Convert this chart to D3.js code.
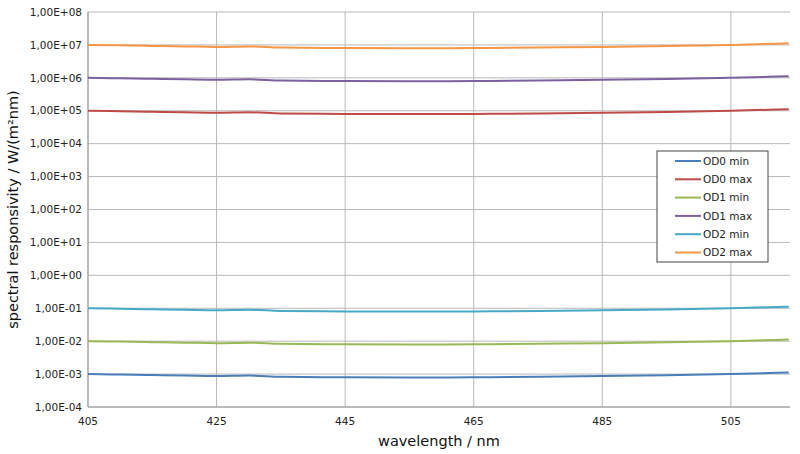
<!DOCTYPE html>
<html><head><meta charset="utf-8">
<script src="https://cdn.jsdelivr.net/npm/d3@7"></script>
<style>body{margin:0;background:#fff}text{font-family:"DejaVu Sans",sans-serif}</style>
</head><body><svg width="800" height="454"></svg>
<script>
const wavelengths = [405, 410, 415, 420, 425, 430, 435, 445, 455, 465, 475, 485, 495, 505, 514];
const od0Min = [1.0e-3, 0.97e-3, 0.93e-3, 0.9e-3, 0.87e-3, 0.9e-3, 0.83e-3, 0.8e-3, 0.79e-3, 0.8e-3, 0.83e-3, 0.87e-3, 0.92e-3, 1.0e-3, 1.12e-3];
const od0Max = [1.0e5, 0.97e5, 0.93e5, 0.9e5, 0.87e5, 0.9e5, 0.83e5, 0.8e5, 0.79e5, 0.8e5, 0.83e5, 0.87e5, 0.92e5, 1.0e5, 1.12e5];
const od1Min = [1.0e-2, 0.97e-2, 0.93e-2, 0.9e-2, 0.87e-2, 0.9e-2, 0.83e-2, 0.8e-2, 0.79e-2, 0.8e-2, 0.83e-2, 0.87e-2, 0.92e-2, 1.0e-2, 1.12e-2];
const od1Max = [1.0e6, 0.97e6, 0.93e6, 0.9e6, 0.87e6, 0.9e6, 0.83e6, 0.8e6, 0.79e6, 0.8e6, 0.83e6, 0.87e6, 0.92e6, 1.0e6, 1.12e6];
const od2Min = [1.0e-1, 0.97e-1, 0.93e-1, 0.9e-1, 0.87e-1, 0.9e-1, 0.83e-1, 0.8e-1, 0.79e-1, 0.8e-1, 0.83e-1, 0.87e-1, 0.92e-1, 1.0e-1, 1.12e-1];
const od2Max = [1.0e7, 0.97e7, 0.93e7, 0.9e7, 0.87e7, 0.9e7, 0.83e7, 0.8e7, 0.79e7, 0.8e7, 0.83e7, 0.87e7, 0.92e7, 1.0e7, 1.12e7];
const seriesNames = ["OD0 min", "OD0 max", "OD1 min", "OD1 max", "OD2 min", "OD2 max"];
const seriesColors = ["#4a7ebb", "#be4b48", "#98b954", "#7d60a0", "#46aac5", "#f79646"];
const seriesValues = [od0Min, od0Max, od1Min, od1Max, od2Min, od2Max];
const xTicks = [405, 425, 445, 465, 485, 505];
const yTickExps = [-4, -3, -2, -1, 0, 1, 2, 3, 4, 5, 6, 7, 8];

const svg = d3.select("svg");
const m = {left: 88, right: 10, top: 12, bottom: 47};
const w = 800 - m.left - m.right, h = 454 - m.top - m.bottom;
const g = svg.append("g").attr("transform", `translate(${m.left},${m.top})`);
const x = d3.scaleLinear().domain([405, 514.2]).range([0, w]);
const y = d3.scaleLog().domain([1e-4, 1e8]).range([h, 0]);

// grid
g.selectAll(".hg").data(yTickExps).enter().append("line")
  .attr("x1", 0).attr("x2", w)
  .attr("y1", d => y(Math.pow(10, d))).attr("y2", d => y(Math.pow(10, d)))
  .attr("stroke", "#b8b8b8");
g.selectAll(".vg").data(xTicks).enter().append("line")
  .attr("y1", 0).attr("y2", h)
  .attr("x1", d => x(d)).attr("x2", d => x(d))
  .attr("stroke", "#b8b8b8");
g.append("line").attr("x1", 0).attr("x2", 0).attr("y1", 0).attr("y2", h).attr("stroke", "#999");
g.append("line").attr("x1", 0).attr("x2", w).attr("y1", h).attr("y2", h).attr("stroke", "#999");

// tick labels
const fmt = e => "1,00E" + (e < 0 ? "-" : "+") + String(Math.abs(e)).padStart(2, "0");
g.selectAll(".yl").data(yTickExps).enter().append("text")
  .attr("x", -6).attr("y", d => y(Math.pow(10, d))).attr("dy", "0.35em")
  .attr("text-anchor", "end").attr("font-size", 10.5).attr("fill", "#222")
  .text(fmt);
g.selectAll(".xl").data(xTicks).enter().append("text")
  .attr("x", d => x(d)).attr("y", h + 18).attr("text-anchor", "middle")
  .attr("font-size", 10.5).attr("fill", "#222").text(d => d);

svg.append("text").attr("x", m.left + w / 2).attr("y", 446).attr("text-anchor", "middle")
  .attr("font-size", 14.5).attr("fill", "#111").text("wavelength / nm");
svg.append("text").attr("transform", `translate(18,${m.top + h / 2}) rotate(-90)`)
  .attr("text-anchor", "middle").attr("font-size", 14.5).attr("fill", "#111")
  .text("spectral responsivity  / W/(m²nm)");

// lines
const line = d3.line().x((d, i) => x(wavelengths[i])).y(d => y(d)).curve(d3.curveMonotoneX);
seriesValues.forEach((vals, k) => {
  g.append("path").datum(vals).attr("d", line).attr("fill", "none")
    .attr("stroke", seriesColors[k]).attr("stroke-width", 2);
});

// legend
const lg = svg.append("g").attr("transform", "translate(657,151)");
lg.append("rect").attr("width", 111).attr("height", 111).attr("fill", "#fff").attr("stroke", "#444");
seriesNames.forEach((n, i) => {
  const yy = 10 + i * 18.3;
  lg.append("line").attr("x1", 18).attr("x2", 44).attr("y1", yy).attr("y2", yy)
    .attr("stroke", seriesColors[i]).attr("stroke-width", 2);
  lg.append("text").attr("x", 46).attr("y", yy).attr("dy", "0.35em")
    .attr("font-size", 10.5).attr("fill", "#222").text(n);
});
</script></body></html>
